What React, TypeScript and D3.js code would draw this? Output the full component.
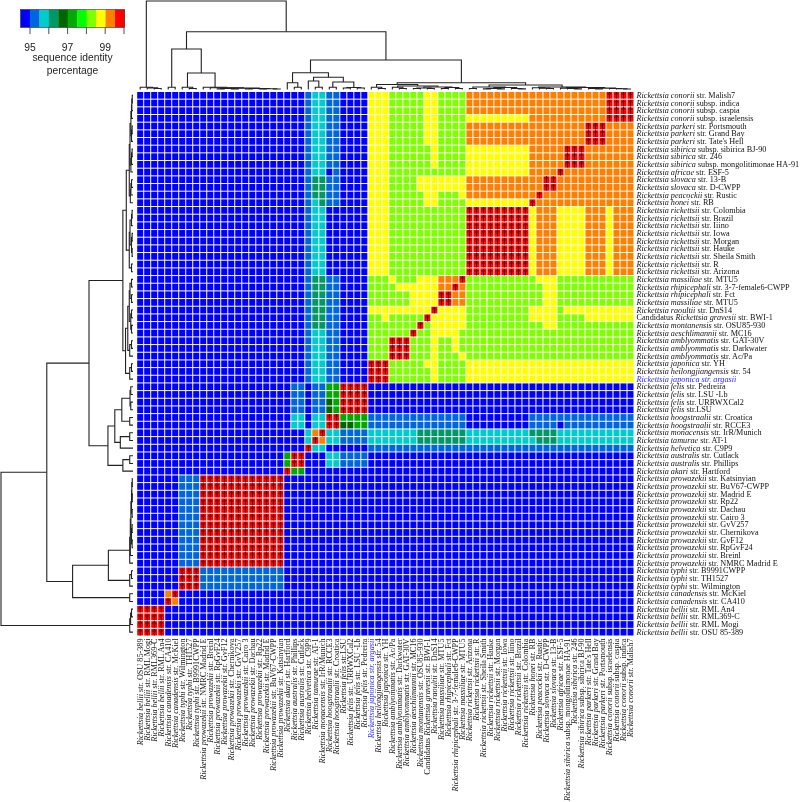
import React from "react";
import * as d3 from "d3";

// colour legend
const legendColors = ["#0000ff","#0066dd","#00cccc","#009966","#006600","#00aa00","#00ff00","#80ff00","#ffff00","#ff8000","#ff0000"];
const legendTicks = [95,96,97,98,99,100];
const legendLabels = [95,97,99];

// row labels, top to bottom (*...* is italic)
const labels = [
"*Rickettsia conorii* str. Malish7","*Rickettsia conorii* subsp. indica","*Rickettsia conorii* subsp. caspia","*Rickettsia conorii* subsp. israelensis",
"*Rickettsia parkeri* str. Portsmouth","*Rickettsia parkeri* str. Grand Bay","*Rickettsia parkeri* str. Tate's Hell",
"*Rickettsia sibirica* subsp. sibirica BJ-90","*Rickettsia sibirica* str. 246","*Rickettsia sibirica* subsp. mongolitimonae HA-91",
"*Rickettsia africae* str. ESF-5","*Rickettsia slovaca* str. 13-B","*Rickettsia slovaca* str. D-CWPP","*Rickettsia peacockii* str. Rustic","*Rickettsia honei* str. RB",
"*Rickettsia rickettsii* str. Colombia","*Rickettsia rickettsii* str. Brazil","*Rickettsia rickettsii* str. Iiino","*Rickettsia rickettsii* str. Iowa","*Rickettsia rickettsii* str. Morgan","*Rickettsia rickettsii* str. Hauke","*Rickettsia rickettsii* str. Sheila Smith","*Rickettsia rickettsii* str. R","*Rickettsia rickettsii* str. Arizona",
"*Rickettsia massiliae* str. MTU5","*Rickettsia rhipicephali* str. 3-7-female6-CWPP","*Rickettsia rhipicephali* str. Fct","*Rickettsia massiliae* str. MTU5","*Rickettsia raoultii* str. DnS14",
"Candidatus *Rickettsia gravesii* str. BWI-1","*Rickettsia montanensis* str. OSU85-930","*Rickettsia aeschlimannii* str. MC16",
"*Rickettsia amblyommatis* str. GAT-30V","*Rickettsia amblyommatis* str. Darkwater","*Rickettsia amblyommatis* str. Ac/Pa",
"*Rickettsia japonica* str. YH","*Rickettsia heilongjiangensis* str. 54","*Rickettsia japonica str. argasii*",
"*Rickettsia felis* str. Pedreira","*Rickettsia felis* str. LSU -Lb","*Rickettsia felis* str. URRWXCal2","*Rickettsia felis* str.LSU",
"*Rickettsia hoogstraalii* str. Croatica","*Rickettsia hoogstraalii* str. RCCE3","*Rickettsia monacensis* str. IrR/Munich","*Rickettsia tamurae* str. AT-1","*Rickettsia helvetica* str. C9P9",
"*Rickettsia australis* str. Cutlack","*Rickettsia australis* str. Phillips","*Rickettsia akari* str. Hartford",
"*Rickettsia prowazekii* str. Katsinyian","*Rickettsia prowazekii* str. BuV67-CWPP","*Rickettsia prowazekii* str. Madrid E","*Rickettsia prowazekii* str. Rp22","*Rickettsia prowazekii* str. Dachau","*Rickettsia prowazekii* str. Cairo 3","*Rickettsia prowazekii* str. GvV257","*Rickettsia prowazekii* str. Chernikova","*Rickettsia prowazekii* str. GvF12","*Rickettsia prowazekii* str. RpGvF24","*Rickettsia prowazekii* str. Breinl","*Rickettsia prowazekii* str. NMRC Madrid E",
"*Rickettsia typhi* str. B9991CWPP","*Rickettsia typhi* str. TH1527","*Rickettsia typhi* str. Wilmington",
"*Rickettsia canadensis* str. McKiel","*Rickettsia canadensis* str. CA410",
"*Rickettsia bellii* str. RML An4","*Rickettsia bellii* str. RML369-C","*Rickettsia bellii* str. RML Mogi","*Rickettsia bellii* str. OSU 85-389",
];
const blueLabel = "*Rickettsia japonica str. argasii*";

// identity level of each cell: index into legendColors (A = 10), one string per row
const matrixRows = [
"0000 00 000 000000000000 0 00 1 2 2 11 0000 888 777 7 7 8 8 7777 999999999 9 9 99 9 999 999 AAAA",
"0000 00 000 000000000000 0 00 1 2 2 11 0000 888 777 7 7 8 8 7777 999999999 9 9 99 9 999 999 AAAA",
"0000 00 000 000000000000 0 00 1 2 2 11 0000 888 777 7 7 8 8 7777 999999999 9 9 99 9 999 999 AAAA",
"0000 00 000 000000000000 0 00 1 2 2 11 0000 888 777 7 7 8 8 7777 888888888 9 9 99 9 999 999 AAAA",
"0000 00 000 000000000000 0 00 1 2 2 11 0000 888 777 7 7 8 8 7777 999999999 9 9 99 9 999 AAA 9999",
"0000 00 000 000000000000 0 00 1 2 2 11 0000 888 777 7 7 8 8 7777 999999999 9 9 99 9 999 AAA 9999",
"0000 00 000 000000000000 0 00 1 2 2 11 0000 888 777 7 7 8 8 7777 999999999 9 9 99 9 999 AAA 9999",
"0000 00 000 000000000000 0 00 1 2 2 11 0000 888 777 7 7 7 8 7777 888888888 9 9 99 9 AAA 999 9999",
"0000 00 000 000000000000 0 00 1 2 2 11 0000 888 777 7 7 7 8 7777 888888888 9 9 99 9 AAA 999 9999",
"0000 00 000 000000000000 0 00 1 2 2 11 0000 888 777 7 7 7 8 7777 888888888 9 9 99 9 AAA 999 9999",
"0000 00 000 000000000000 0 00 1 2 2 01 0000 888 777 7 7 7 7 7777 888888888 9 9 99 A 999 999 9999",
"0000 00 000 000000000000 0 00 1 3 3 11 0000 888 777 7 8 8 8 8888 999999999 9 9 AA 9 999 999 9999",
"0000 00 000 000000000000 0 00 1 3 3 11 0000 888 777 7 8 8 8 8888 999999999 9 9 AA 9 999 999 9999",
"0000 00 000 000000000000 0 00 1 3 3 11 0000 888 777 7 7 8 8 7778 999999999 9 A 99 9 999 999 9999",
"0000 00 000 000000000000 0 00 1 2 3 11 0000 888 777 7 7 8 8 7777 888888888 A 9 99 9 999 999 9999",
"0000 00 000 000000000000 0 00 1 2 2 00 0000 888 777 7 7 7 7 7777 AAAAAAAAA 8 9 99 8 888 999 8999",
"0000 00 000 000000000000 0 00 1 2 2 00 0000 888 777 7 7 7 7 7777 AAAAAAAAA 8 9 99 8 888 999 8999",
"0000 00 000 000000000000 0 00 1 2 2 00 0000 888 777 7 7 7 7 7777 AAAAAAAAA 8 9 99 8 888 999 8999",
"0000 00 000 000000000000 0 00 1 2 2 00 0000 888 777 7 7 7 7 7777 AAAAAAAAA 8 9 99 8 888 999 8999",
"0000 00 000 000000000000 0 00 1 2 2 00 0000 888 777 7 7 7 7 7777 AAAAAAAAA 8 9 99 8 888 999 8999",
"0000 00 000 000000000000 0 00 1 2 2 00 0000 888 777 7 7 7 7 7777 AAAAAAAAA 8 9 99 8 888 999 8999",
"0000 00 000 000000000000 0 00 1 2 2 00 0000 888 777 7 7 7 7 7777 AAAAAAAAA 8 9 99 8 888 999 8999",
"0000 00 000 000000000000 0 00 1 2 2 00 0000 888 777 7 7 7 7 7777 AAAAAAAAA 8 9 99 8 888 999 8999",
"0000 00 000 000000000000 0 00 1 2 2 00 0000 888 777 7 7 7 7 7777 AAAAAAAAA 8 9 99 8 888 999 8999",
"0000 00 000 000000000000 0 00 1 3 3 11 0000 777 877 7 8 8 8 999A 777777777 7 8 88 7 777 777 7777",
"0000 00 000 000000000000 0 00 1 3 3 11 0000 777 788 8 8 8 8 99A9 777777777 7 7 88 7 777 777 7777",
"0000 00 000 000000000000 0 00 1 3 3 11 0000 777 777 8 8 8 8 AA99 777777777 7 7 88 7 777 777 7777",
"0000 00 000 000000000000 0 00 1 3 3 11 0000 777 777 8 8 8 8 AA99 777777777 7 7 88 7 777 777 7777",
"0000 00 000 000000000000 0 00 1 3 3 11 0000 888 888 8 8 8 A 8888 777777777 8 8 88 7 888 888 8888",
"0000 00 000 000000000000 0 00 1 3 3 11 0000 778 777 7 7 A 8 8888 777777777 8 8 88 7 777 888 8888",
"0000 00 000 000000000000 0 00 1 3 3 11 0000 777 777 7 A 7 8 8888 777777777 7 7 88 7 777 777 7777",
"0000 00 000 000000000000 0 00 1 2 2 11 0000 777 777 A 7 7 8 8887 777777777 7 7 77 7 777 777 7777",
"0000 00 000 000000000000 0 00 1 2 2 11 0000 777 AAA 7 7 7 8 7787 777777777 7 7 77 7 777 777 7777",
"0000 00 000 000000000000 0 00 1 2 2 11 0000 777 AAA 7 7 7 8 7787 777777777 7 7 77 7 777 777 7777",
"0000 00 000 000000000000 0 00 1 2 2 11 0000 777 AAA 7 7 7 8 7778 777777777 7 7 77 7 777 777 7777",
"0000 00 000 000000000000 0 00 1 2 2 11 0000 AAA 777 7 7 8 8 7777 888888888 8 8 88 8 888 888 8888",
"0000 00 000 000000000000 0 00 1 2 2 11 0000 AAA 777 7 7 7 8 7777 888888888 8 8 88 8 888 888 8888",
"0000 00 000 000000000000 0 00 1 2 2 11 0000 AAA 777 7 7 7 8 7777 888888888 8 8 88 8 888 888 8888",
"0000 00 000 000000000000 0 11 0 1 1 55 AAAA 000 000 0 0 0 0 0000 000000000 0 0 00 0 000 000 0000",
"0000 00 000 000000000000 0 11 0 1 1 55 AAAA 000 000 0 0 0 0 0000 000000000 0 0 00 0 000 000 0000",
"0000 00 000 000000000000 0 11 0 1 1 45 AAAA 000 000 0 0 0 0 0000 000000000 0 0 00 0 000 000 0000",
"0000 00 000 000000000000 0 11 0 1 1 45 AAAA 000 000 0 0 0 0 0000 000000000 0 0 00 0 000 000 0000",
"0000 00 000 000000000000 0 22 0 2 2 AA 5555 111 111 1 1 1 1 1111 000000000 1 1 11 1 111 111 1111",
"0000 00 000 000000000000 0 22 0 2 2 AA 4455 111 111 1 1 1 1 1111 000000000 1 1 11 0 111 111 1111",
"0000 00 000 000000000000 0 00 2 9 A 22 1111 222 222 2 3 3 3 3333 222222222 3 3 33 2 222 222 2222",
"0000 00 000 000000000000 0 00 2 A 9 22 1111 222 222 2 3 3 3 3333 222222222 2 3 33 2 222 222 2222",
"0000 00 000 000000000000 0 00 A 2 2 00 0000 111 111 1 1 1 1 1111 111111111 1 1 11 1 111 111 1111",
"0000 00 000 000000000000 5 AA 0 0 0 22 1111 000 000 0 0 0 0 0000 000000000 0 0 00 0 000 000 0000",
"0000 00 000 000000000000 5 AA 0 0 0 22 1111 000 000 0 0 0 0 0000 000000000 0 0 00 0 000 000 0000",
"0000 00 000 000000000000 A 55 0 0 0 00 0000 000 000 0 0 0 0 0000 000000000 0 0 00 0 000 000 0000",
"0000 00 111 AAAAAAAAAAAA 0 00 0 0 0 00 0000 000 000 0 0 0 0 0000 000000000 0 0 00 0 000 000 0000",
"0000 00 111 AAAAAAAAAAAA 0 00 0 0 0 00 0000 000 000 0 0 0 0 0000 000000000 0 0 00 0 000 000 0000",
"0000 00 111 AAAAAAAAAAAA 0 00 0 0 0 00 0000 000 000 0 0 0 0 0000 000000000 0 0 00 0 000 000 0000",
"0000 00 111 AAAAAAAAAAAA 0 00 0 0 0 00 0000 000 000 0 0 0 0 0000 000000000 0 0 00 0 000 000 0000",
"0000 00 111 AAAAAAAAAAAA 0 00 0 0 0 00 0000 000 000 0 0 0 0 0000 000000000 0 0 00 0 000 000 0000",
"0000 00 111 AAAAAAAAAAAA 0 00 0 0 0 00 0000 000 000 0 0 0 0 0000 000000000 0 0 00 0 000 000 0000",
"0000 00 111 AAAAAAAAAAAA 0 00 0 0 0 00 0000 000 000 0 0 0 0 0000 000000000 0 0 00 0 000 000 0000",
"0000 00 111 AAAAAAAAAAAA 0 00 0 0 0 00 0000 000 000 0 0 0 0 0000 000000000 0 0 00 0 000 000 0000",
"0000 00 111 AAAAAAAAAAAA 0 00 0 0 0 00 0000 000 000 0 0 0 0 0000 000000000 0 0 00 0 000 000 0000",
"0000 00 111 AAAAAAAAAAAA 0 00 0 0 0 00 0000 000 000 0 0 0 0 0000 000000000 0 0 00 0 000 000 0000",
"0000 00 111 AAAAAAAAAAAA 0 00 0 0 0 00 0000 000 000 0 0 0 0 0000 000000000 0 0 00 0 000 000 0000",
"0000 00 111 AAAAAAAAAAAA 0 00 0 0 0 00 0000 000 000 0 0 0 0 0000 000000000 0 0 00 0 000 000 0000",
"0000 00 AAA 111111111111 0 00 0 0 0 00 0000 000 000 0 0 0 0 0000 000000000 0 0 00 0 000 000 0000",
"0000 00 AAA 111111111111 0 00 0 0 0 00 0000 000 000 0 0 0 0 0000 000000000 0 0 00 0 000 000 0000",
"0000 00 AAA 111111111111 0 00 0 0 0 00 0000 000 000 0 0 0 0 0000 000000000 0 0 00 0 000 000 0000",
"0000 9A 000 000000000000 0 00 0 0 0 00 0000 000 000 0 0 0 0 0000 000000000 0 0 00 0 000 000 0000",
"0000 A9 000 000000000000 0 00 0 0 0 00 0000 000 000 0 0 0 0 0000 000000000 0 0 00 0 000 000 0000",
"AAAA 00 000 000000000000 0 00 0 0 0 00 0000 000 000 0 0 0 0 0000 000000000 0 0 00 0 000 000 0000",
"AAAA 00 000 000000000000 0 00 0 0 0 00 0000 000 000 0 0 0 0 0000 000000000 0 0 00 0 000 000 0000",
"AAAA 00 000 000000000000 0 00 0 0 0 00 0000 000 000 0 0 0 0 0000 000000000 0 0 00 0 000 000 0000",
"AAAA 00 000 000000000000 0 00 0 0 0 00 0000 000 000 0 0 0 0 0000 000000000 0 0 00 0 000 000 0000",
];

// dendrogram: [merge height, left, right]; a bare number is a leaf (column index)
const belliiTree = [2.2, 0, [1.6, 1, [1, 2, 3]]];
const rickettsiaTree = [40.5, [2.2, 4, 5], [16.5, [2.2, 6, [1, 7, 8]],
  [2.2, 9, [1.8, 10, [1.4, [1, [.6, 11, 12], [.6, 13, 14]], [1, [.6, 15, 16], [.8, [.5, 17, 18], [.5, 19, 20]]]]]]]];
const transitionalTree = [16.8, [6.8, 21, [2.2, 22, 23]],
  [12.2, [8.5, 24, [2.2, 25, 26]], [7.5, [2.2, 27, 28], [2, [1.5, 29, 30], [1.5, 31, 32]]]]];
const spottedTreeA = [5, [2.2, 33, [1, 34, 35]],
  [3.5, [2.2, 36, [1, 37, 38]], [2.5, [1.5, [1, 39, 40], [1, 41, 42]], [2, [1, 43, 44], [1, 45, 46]]]]];
const spottedTreeB = [4.5,
  [2.5, [1, 47, 48], [2, [1, [.6, 49, 50], [.6, 51, 52]], [1, 53, [.6, 54, 55]]]],
  [2.5, [1.8, 56, [1.4, 57, [1, 58, 59]]],
    [2, [1.4, 60, [1, 61, [.6, 62, 63]]], [1.4, [1, 64, [.6, 65, 66]], [1, 67, [.8, 68, [.5, 69, 70]]]]]]];
const fullTree = [88.5, belliiTree, [57.8, rickettsiaTree, [29.5, transitionalTree, [6.8, spottedTreeA, spottedTreeB]]]];

const n = labels.length;
const serif = "'Liberation Serif', serif";
const sans = "'Liberation Sans', sans-serif";

const colBand = d3.scaleBand<number>().domain(d3.range(n)).range([136.7, 634]).paddingInner(0.14).paddingOuter(0.07);
const rowBand = d3.scaleBand<number>().domain(d3.range(n)).range([91.5, 636]).paddingInner(0.13).paddingOuter(0.065);
const colC = (c: number) => colBand(c)! + colBand.bandwidth() / 2;
const rowC = (r: number) => rowBand(r)! + rowBand.bandwidth() / 2;
const topY = d3.scaleLinear().domain([0, 88.5]).range([89.5, 1]);
const leftX = d3.scaleLinear().domain([0, 88.5]).range([133, 1]);

const legendBand = d3.scaleBand<number>().domain(d3.range(legendColors.length)).range([20.5, 124.5]);
const legendTickX = d3.scaleLinear().domain([95, 100]).range([30, 124]);

const matrix = matrixRows.map((s) => s.replace(/ /g, "").split("").map((ch) => (ch === "A" ? 10 : +ch)));

function dendroPaths(pos: (col: number) => number, hPos: (h: number) => number, horizontal: boolean) {
  const root = d3.hierarchy<any>(fullTree, (d) => (Array.isArray(d) ? d.slice(1) : null));
  const p = new Map<any, number>();
  const hOf = (nd: any) => (Array.isArray(nd.data) ? nd.data[0] : 0);
  root.eachAfter((nd: any) => {
    p.set(nd, nd.children ? d3.mean(nd.children, (c: any) => p.get(c)!)! : pos(nd.data));
  });
  const out: string[] = [];
  root.each((nd: any) => {
    if (!nd.children) return;
    const [a, b] = nd.children;
    const h = hPos(hOf(nd));
    out.push(horizontal
      ? `M${p.get(a)},${hPos(hOf(a))}V${h}H${p.get(b)}V${hPos(hOf(b))}`
      : `M${hPos(hOf(a))},${p.get(a)}H${h}V${p.get(b)}H${hPos(hOf(b))}`);
  });
  return out;
}

function Label({ text, ...rest }: any) {
  const parts = text.split("*");
  return (
    <text {...rest} fontFamily={serif} fontSize={8.2} fill={text === blueLabel ? "#2a2aff" : "#111"}>
      {parts.map((t: string, i: number) => (
        <tspan key={i} fontStyle={i % 2 ? "italic" : "normal"}>{t}</tspan>
      ))}
    </text>
  );
}

export default function App() {
  const topPaths = dendroPaths(colC, topY, true);
  const leftPaths = dendroPaths((c) => rowC(n - 1 - c), leftX, false);
  return (
    <svg width={800} height={802} style={{ position: "absolute", left: 0, top: 0, display: "block", background: "#fff" }}>
      <g style={{ filter: "blur(0.35px)" }}>
        {legendColors.map((c, i) => (
          <rect key={i} x={legendBand(i)} y={9.5} width={legendBand.bandwidth() + 0.3} height={18} fill={c} />
        ))}
        <rect x={20.5} y={9.5} width={104} height={18} fill="none" stroke="#333" strokeWidth={0.6} />
        {legendTicks.map((t) => (
          <line key={t} x1={legendTickX(t)} x2={legendTickX(t)} y1={27.5} y2={34} stroke="#222" strokeWidth={0.8} />
        ))}
        {legendLabels.map((t) => (
          <text key={t} x={legendTickX(t)} y={50.8} textAnchor="middle" fontFamily={sans} fontSize={10.3} fill="#222">{t}</text>
        ))}
        <text x={72.5} y={61} textAnchor="middle" fontFamily={sans} fontSize={10.3} fill="#222">sequence identity</text>
        <text x={72.5} y={73.5} textAnchor="middle" fontFamily={sans} fontSize={10.3} fill="#222">percentage</text>

        {topPaths.map((d, i) => <path key={i} d={d} fill="none" stroke="#222" strokeWidth={1.1} />)}
        {leftPaths.map((d, i) => <path key={i} d={d} fill="none" stroke="#222" strokeWidth={1.1} />)}

        {matrix.map((row, r) =>
          row.map((v, c) => (
            <rect key={`${r}-${c}`} x={colBand(c)} y={rowBand(r)} width={colBand.bandwidth()} height={rowBand.bandwidth()} fill={legendColors[v]} />
          ))
        )}
        {matrix.map((row, r) =>
          row.map((v, c) =>
            v === 10 ? (
              <text key={`d${r}-${c}`} x={colC(c)} y={rowC(r) + 2.8} textAnchor="middle" fontFamily={serif} fontSize={8.5} fontWeight="bold" fill="#111">†</text>
            ) : null
          )
        )}

        {labels.map((t, r) => (
          <Label key={r} text={t} x={636.5} y={rowC(r) + 2.6} />
        ))}
        {labels.map((t, r) => {
          const c = n - 1 - r;
          return <Label key={r} text={t} textAnchor="end" transform={`translate(${colC(c) + 2.6},638.5) rotate(-90)`} />;
        })}
      </g>
    </svg>
  );
}
